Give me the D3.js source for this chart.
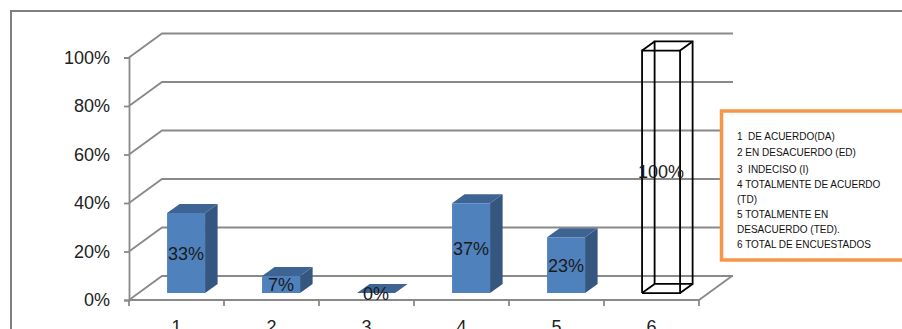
<!DOCTYPE html>
<html>
<head>
<meta charset="utf-8">
<script src="https://cdn.jsdelivr.net/npm/d3@7"></script>
<style>
    body { margin: 0; background: #fff; }
    svg { display: block; }
    text { font-family: "Liberation Sans", Arial, sans-serif; }
    .legend text { white-space: pre; }
</style>
</head>
<body>
<svg id="chart" width="902" height="329"></svg>
<script>
// datos de la encuesta
const categories = ["1", "2", "3", "4", "5", "6"];
const values = [0.33, 0.07, 0, 0.37, 0.23, 1.00];
const valueLabels = ["33%", "7%", "0%", "37%", "23%", "100%"];
const yTicks = [0, 0.2, 0.4, 0.6, 0.8, 1.0];
const legendLines = [
    "1  DE ACUERDO(DA)",
    "2 EN DESACUERDO (ED)",
    "3  INDECISO (I)",
    "4 TOTALMENTE DE ACUERDO",
    "(TD)",
    "5 TOTALMENTE EN",
    "DESACUERDO (TED).",
    "6 TOTAL DE ENCUESTADOS"
];

const svg = d3.select("#chart");

// profundidad 3D del piso
const depthX = 33, depthY = 24;
const d0 = 0.29, d1 = 0.67;

const x = d3.scaleBand()
    .domain(categories)
    .range([129, 699])
    .paddingInner(0.6)
    .paddingOuter(0.3);

const y = d3.scaleLinear().domain([0, 1]).range([300, 57.5]);

function pt(px, v, d) {
    return [px + d * depthX, y(v) - d * depthY];
}

const gridColor = "#898989";

// borde exterior
svg.append("path")
    .attr("d", "M11,335 L11,11 L910,11")
    .attr("fill", "none")
    .attr("stroke", "#7f7f7f")
    .attr("stroke-width", 2);

// paredes y lineas de cuadricula
const grid = svg.append("g").attr("fill", "none").attr("stroke", gridColor).attr("stroke-width", 1.8);

yTicks.forEach(v => {
    const a = pt(129, v, 0), b = pt(129, v, 1), c = pt(700, v, 1);
    grid.append("path").attr("d", `M${a}L${b}L${c}`);
});
grid.append("path").attr("d", `M${pt(699, 0, 0)}L${pt(699, 0, 1)}`);

// eje Y
const yAxis = svg.append("g")
    .attr("transform", "translate(129,0)")
    .call(d3.axisLeft(y).tickValues(yTicks).tickFormat(d3.format(".0%")).tickSize(5).tickPadding(14));
yAxis.select(".domain").attr("stroke", gridColor).attr("stroke-width", 1.8);
yAxis.selectAll(".tick line").attr("stroke", gridColor).attr("stroke-width", 1.8);
yAxis.selectAll(".tick text").attr("font-size", 18).attr("fill", "#222")
    .style("font-family", "'Liberation Sans', Arial, sans-serif");

// eje X
const xAxis = svg.append("g");
xAxis.append("line")
    .attr("x1", 129).attr("x2", 699).attr("y1", y(0)).attr("y2", y(0))
    .attr("stroke", gridColor).attr("stroke-width", 1.8);
const step = x.step();
d3.range(categories.length + 1).forEach(i => {
    const tx = 129 + i * step;
    xAxis.append("line")
        .attr("x1", tx).attr("x2", tx).attr("y1", y(0)).attr("y2", y(0) + 6)
        .attr("stroke", gridColor).attr("stroke-width", 1.8);
});
xAxis.selectAll("text.cat")
    .data(categories)
    .join("text")
    .attr("class", "cat")
    .attr("x", d => x(d) + x.bandwidth() / 2)
    .attr("y", 333)
    .attr("text-anchor", "middle")
    .attr("font-size", 18)
    .attr("fill", "#222")
    .text(d => d);

// barras 3D
const bars = svg.append("g");
const w = x.bandwidth();

categories.forEach((c, i) => {
    const v = values[i];
    const left = x(c);
    const right = left + w;
    const fl = pt(left, 0, d0), fr = pt(right, 0, d0);
    const tl = pt(left, v, d0), tr = pt(right, v, d0);
    const btl = pt(left, v, d1), btr = pt(right, v, d1);
    const bbr = pt(right, 0, d1), bbl = pt(left, 0, d1);
    const g = bars.append("g");

    if (i === 5) {
        // barra del total: solo contorno
        const edges = [
            [fl, fr, tr, tl, fl],
            [bbl, bbr, btr, btl, bbl],
            [fl, bbl], [fr, bbr], [tl, btl], [tr, btr]
        ];
        edges.forEach(e => {
            g.append("path")
                .attr("d", "M" + e.join("L"))
                .attr("fill", "none")
                .attr("stroke", "#000")
                .attr("stroke-width", 1.8);
        });
    } else {
        g.append("path")
            .attr("d", `M${fr}L${bbr}L${btr}L${tr}Z`)
            .attr("fill", "#34567f");
        g.append("path")
            .attr("d", `M${tl}L${tr}L${btr}L${btl}Z`)
            .attr("fill", "#3e6494");
        if (v > 0) {
            g.append("path")
                .attr("d", `M${fl}L${fr}L${tr}L${tl}Z`)
                .attr("fill", "#4f81bd");
        }
    }

    g.append("text")
        .attr("x", (fl[0] + fr[0]) / 2)
        .attr("y", (fl[1] + tl[1]) / 2)
        .attr("dy", "0.36em")
        .attr("text-anchor", "middle")
        .attr("font-size", 18)
        .attr("fill", "#1a1a1a")
        .text(valueLabels[i]);
});

// leyenda
const legend = svg.append("g").attr("class", "legend");
legend.append("rect")
    .attr("x", 721.5).attr("y", 111)
    .attr("width", 200).attr("height", 149)
    .attr("fill", "#fff")
    .attr("stroke", "#f79646")
    .attr("stroke-width", 3.5);

const legendY = [139.5, 156, 172.5, 187.5, 202.5, 217.5, 232.5, 247.5];
legend.selectAll("text")
    .data(legendLines)
    .join("text")
    .attr("x", 737)
    .attr("y", (d, i) => legendY[i])
    .attr("font-size", 10)
    .attr("fill", "#111")
    .text(d => d);
</script>
</body>
</html>
